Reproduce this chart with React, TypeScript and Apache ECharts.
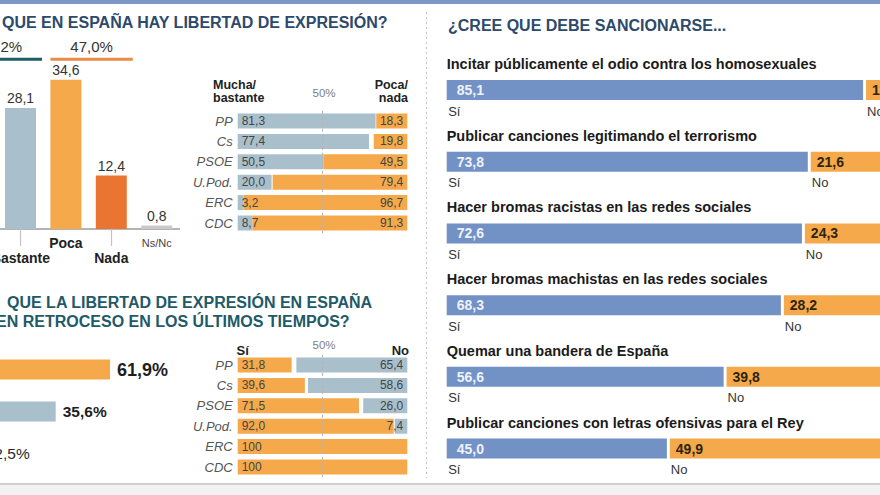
import React, { useEffect, useRef } from "react";
import * as echarts from "echarts";

const FONT = "'Liberation Sans', Arial, Helvetica, sans-serif";

// ---- Section 1: ¿Cree que en España hay libertad de expresión?
const title1 = "QUE EN ESPAÑA HAY LIBERTAD DE EXPRESIÓN?";
const libertadCats = ["Mucha", "Bastante", "Poca", "Nada", "Ns/Nc"];
const libertadVals = [24.1, 28.1, 34.6, 12.4, 0.8];
const libertadColors = ["#6f98a6", "#a9c0cc", "#f5a94a", "#ea7431", "#c9c9c9"];
const libertadGroups = [
  [0, 1],
  [2, 3],
];
const groupColors = ["#1d5e66", "#ec8a47"];

// ---- Section 2: por partido (Mucha/bastante vs Poca/nada)
const parties = ["PP", "Cs", "PSOE", "U.Pod.", "ERC", "CDC"];
const muchaBastante = [81.3, 77.4, 50.5, 20.0, 3.2, 8.7];
const pocaNada = [18.3, 19.8, 49.5, 79.4, 96.7, 91.3];

// ---- Section 3: ¿retroceso?
const title3a = "QUE LA LIBERTAD DE EXPRESIÓN EN ESPAÑA";
const title3b = "ESTÁ EN RETROCESO EN LOS ÚLTIMOS TIEMPOS?";
const retrocesoCats = ["Sí", "No", "Ns/Nc"];
const retrocesoVals = [61.9, 35.6, 2.5];
const retrocesoColors = ["#f5a94a", "#a9c0cc", "#c9c9c9"];

// ---- Section 4: retroceso por partido
const retrocesoSi = [31.8, 39.6, 71.5, 92.0, 100, 100];
const retrocesoNo = [65.4, 58.6, 26.0, 7.4, 0, 0];

// ---- Section 5: ¿Cree que debe sancionarse...
const title5 = "¿CREE QUE DEBE SANCIONARSE...";
const questions = [
  "Incitar públicamente el odio contra los homosexuales",
  "Publicar canciones legitimando el terrorismo",
  "Hacer bromas racistas en las redes sociales",
  "Hacer bromas machistas en las redes sociales",
  "Quemar una bandera de España",
  "Publicar canciones con letras ofensivas para el Rey",
];
const sancionSi = [85.1, 73.8, 72.6, 68.3, 56.6, 45.0];
const sancionNo = [11.6, 21.6, 24.3, 28.2, 39.8, 49.9];

const BLUE = "#7291c5";
const ORANGE = "#f5a94a";
const GREYBLUE = "#a9c0cc";
const GAP = 0.6;
const COL_BAR_W = 31;

const fmt = (v: number) => v.toFixed(1).replace(".", ",");
const fmtTable = (v: number) => (v === 0 ? "" : v === 100 ? "100" : fmt(v));

function txt(text: string, x: number, y: number, o: any = {}) {
  return {
    type: "text",
    x,
    y,
    silent: true,
    style: {
      text,
      fill: o.fill || "#222",
      fontSize: o.fontSize || 13,
      fontWeight: o.fontWeight || "normal",
      fontStyle: o.fontStyle || "normal",
      fontFamily: FONT,
      align: o.align || "left",
      textAlign: o.align || "left",
      verticalAlign: "middle",
      textVerticalAlign: "middle",
      lineHeight: o.lineHeight,
    },
  };
}

export default function App() {
  const ref = useRef<HTMLDivElement>(null);

  useEffect(() => {
    const el = ref.current!;
    const chart = echarts.init(el, null, { renderer: "svg" });

    const tableYAxis = (gridIndex: number) => ({
      type: "category",
      gridIndex,
      data: parties,
      inverse: true,
      axisLine: { show: false },
      axisTick: { show: false },
      axisLabel: {
        fontStyle: "italic",
        fontSize: 13,
        color: "#555",
        margin: 5,
        fontFamily: FONT,
      },
    });

    const option: any = {
      animation: false,
      textStyle: { fontFamily: FONT },
      grid: [
        { left: -47.6, top: 56.6, width: 227, height: 172.4, containLabel: false, outerBoundsMode: "none" },
        { left: 237.7, top: 110.8, width: 169.6, height: 122.4, containLabel: false, outerBoundsMode: "none" },
        { left: -17.8, top: 348.5, width: 206.5, height: 126, containLabel: false, outerBoundsMode: "none" },
        { left: 237.7, top: 354.8, width: 169.6, height: 122.4, containLabel: false, outerBoundsMode: "none" },
        { left: 446.7, top: 54.2, width: 489.3, height: 430.2, containLabel: false, outerBoundsMode: "none" },
      ],
      xAxis: [
        {
          type: "category",
          gridIndex: 0,
          data: libertadCats,
          axisLine: { lineStyle: { color: "#9c9c9c", width: 1.5 } },
          axisTick: {
            show: true,
            alignWithLabel: true,
            length: 17,
            interval: (index: number) => index % 2 === 1,
            lineStyle: { color: "#c4c4c4", width: 1.2 },
          },
          axisLabel: {
            interval: 0,
            margin: 6,
            lineHeight: 15,
            formatter: (value: string, index: number) => {
              if (index === 0) return "";
              if (value === "Ns/Nc") return `{s|${value}}`;
              return index % 2 === 1 ? `\n{b|${value}}` : `{b|${value}}`;
            },
            rich: {
              b: { fontSize: 14, fontWeight: "bold", color: "#222", lineHeight: 15, fontFamily: FONT },
              s: { fontSize: 11, color: "#444", lineHeight: 15, fontFamily: FONT },
            },
          },
        },
        { type: "value", gridIndex: 1, min: 0, max: 100, show: false },
        { type: "value", gridIndex: 2, min: 0, max: 100, show: false },
        { type: "value", gridIndex: 3, min: 0, max: 100, show: false },
        { type: "value", gridIndex: 4, min: 0, max: 100, show: false },
      ],
      yAxis: [
        { type: "value", gridIndex: 0, min: 0, max: 40, show: false },
        tableYAxis(1),
        { type: "category", gridIndex: 2, data: retrocesoCats, inverse: true, show: false },
        tableYAxis(3),
        { type: "category", gridIndex: 4, data: questions, inverse: true, show: false },
      ],
      series: [
        // Section 1 columns
        {
          type: "bar",
          xAxisIndex: 0,
          yAxisIndex: 0,
          data: libertadVals,
          barWidth: COL_BAR_W,
          itemStyle: { color: (p: any) => libertadColors[p.dataIndex] },
          label: {
            show: true,
            position: "top",
            distance: 3,
            fontSize: 14,
            color: "#333",
            formatter: (p: any) => (p.dataIndex === 0 ? "" : fmt(p.value)),
          },
        },
        // Section 1 group brackets
        {
          type: "custom",
          xAxisIndex: 0,
          yAxisIndex: 0,
          data: libertadGroups,
          clip: false,
          z: 5,
          renderItem: (params: any, api: any) => {
            const s = api.value(0);
            const e = api.value(1);
            const x1 = api.coord([s, 0])[0] - COL_BAR_W / 2;
            const x2 = api.coord([e, 0])[0] + COL_BAR_W / 2 + 6;
            const y = api.coord([0, 39.4])[1];
            let total = 0;
            for (let i = s; i <= e; i++) total += libertadVals[i];
            return {
              type: "group",
              children: [
                {
                  type: "line",
                  shape: { x1, y1: y, x2, y2: y },
                  style: { stroke: groupColors[params.dataIndex], lineWidth: 3 },
                },
                {
                  type: "text",
                  x: (x1 + x2) / 2,
                  y: y - 13,
                  style: {
                    text: fmt(total) + "%",
                    fill: "#333",
                    fontSize: 15,
                    fontFamily: FONT,
                    align: "center",
                    verticalAlign: "middle",
                  },
                },
              ],
            };
          },
        },
        // Section 2 table
        {
          type: "bar",
          xAxisIndex: 1,
          yAxisIndex: 1,
          stack: "t1",
          data: muchaBastante,
          barWidth: 15,
          itemStyle: { color: GREYBLUE },
          label: {
            show: true,
            position: "insideLeft",
            distance: 4,
            fontSize: 12,
            color: "#454545",
            textBorderWidth: 0,
            formatter: (p: any) => fmtTable(p.value),
          },
          markLine: {
            silent: true,
            symbol: "none",
            label: { show: false },
            lineStyle: { type: [3, 3], color: "#b5b5b5", width: 1 },
            data: [{ xAxis: 50 }],
          },
        },
        {
          type: "bar",
          xAxisIndex: 1,
          yAxisIndex: 1,
          stack: "t1",
          data: muchaBastante.map((v, i) => Math.max(0, 100 - v - pocaNada[i])),
          barWidth: 15,
          itemStyle: { color: "rgba(0,0,0,0)" },
          silent: true,
        },
        {
          type: "bar",
          xAxisIndex: 1,
          yAxisIndex: 1,
          stack: "t1",
          data: pocaNada,
          barWidth: 15,
          itemStyle: { color: ORANGE },
          label: {
            show: true,
            position: "insideRight",
            distance: 4,
            fontSize: 12,
            color: "#454545",
            textBorderWidth: 0,
            formatter: (p: any) => fmtTable(p.value),
          },
        },
        // Section 3 bars
        {
          type: "bar",
          xAxisIndex: 2,
          yAxisIndex: 2,
          data: retrocesoVals,
          barWidth: 20,
          itemStyle: { color: (p: any) => retrocesoColors[p.dataIndex] },
          label: {
            show: true,
            position: "right",
            distance: 7,
            textBorderWidth: 0,
            formatter: (p: any) => {
              const k = ["a", "b", "c"][p.dataIndex];
              return `{${k}|${fmt(p.value)}%}`;
            },
            rich: {
              a: { fontSize: 18, fontWeight: "bold", color: "#1e1e1e", fontFamily: FONT },
              b: { fontSize: 15.5, fontWeight: "bold", color: "#1e1e1e", fontFamily: FONT },
              c: { fontSize: 15.5, color: "#2a2a2a", fontFamily: FONT },
            },
          },
        },
        // Section 4 table
        {
          type: "bar",
          xAxisIndex: 3,
          yAxisIndex: 3,
          stack: "t2",
          data: retrocesoSi,
          barWidth: 15,
          itemStyle: { color: ORANGE },
          label: {
            show: true,
            position: "insideLeft",
            distance: 4,
            fontSize: 12,
            color: "#454545",
            textBorderWidth: 0,
            formatter: (p: any) => fmtTable(p.value),
          },
          markLine: {
            silent: true,
            symbol: "none",
            label: { show: false },
            lineStyle: { type: [3, 3], color: "#b5b5b5", width: 1 },
            data: [{ xAxis: 50 }],
          },
        },
        {
          type: "bar",
          xAxisIndex: 3,
          yAxisIndex: 3,
          stack: "t2",
          data: retrocesoSi.map((v, i) => Math.max(0, 100 - v - retrocesoNo[i])),
          barWidth: 15,
          itemStyle: { color: "rgba(0,0,0,0)" },
          silent: true,
        },
        {
          type: "bar",
          xAxisIndex: 3,
          yAxisIndex: 3,
          stack: "t2",
          data: retrocesoNo,
          barWidth: 15,
          itemStyle: { color: GREYBLUE },
          label: {
            show: true,
            position: "insideRight",
            distance: 4,
            fontSize: 12,
            color: "#454545",
            textBorderWidth: 0,
            formatter: (p: any) => fmtTable(p.value),
          },
        },
        // Section 5 bars
        {
          type: "bar",
          xAxisIndex: 4,
          yAxisIndex: 4,
          stack: "r",
          data: sancionSi,
          barWidth: 20,
          itemStyle: { color: BLUE },
          label: {
            show: true,
            position: [0, -32],
            align: "left",
            verticalAlign: "top",
            textBorderWidth: 0,
            formatter: (p: any) => `{t|${p.name}}\n{v|${fmt(p.value)}}\n{s|Sí}`,
            rich: {
              t: { fontSize: 14.5, fontWeight: "bold", color: "#1b1b1b", lineHeight: 32, fontFamily: FONT },
              v: { fontSize: 14, fontWeight: "bold", color: "#eef2fa", lineHeight: 20, padding: [0, 0, 0, 10], fontFamily: FONT },
              s: { fontSize: 13, color: "#333", lineHeight: 22, padding: [0, 0, 0, 1.5], fontFamily: FONT },
            },
          },
        },
        {
          type: "bar",
          xAxisIndex: 4,
          yAxisIndex: 4,
          stack: "r",
          data: sancionSi.map(() => GAP),
          barWidth: 20,
          itemStyle: { color: "rgba(0,0,0,0)" },
          silent: true,
        },
        {
          type: "bar",
          xAxisIndex: 4,
          yAxisIndex: 4,
          stack: "r",
          data: sancionNo,
          barWidth: 20,
          itemStyle: { color: ORANGE },
          label: {
            show: true,
            position: [0, 0],
            align: "left",
            verticalAlign: "top",
            textBorderWidth: 0,
            formatter: (p: any) => `{v|${fmt(p.value)}}\n{s|No}`,
            rich: {
              v: { fontSize: 14, fontWeight: "bold", color: "#2e2410", lineHeight: 20, padding: [0, 0, 0, 6], fontFamily: FONT },
              s: { fontSize: 13, color: "#333", lineHeight: 22, padding: [0, 0, 0, 1], fontFamily: FONT },
            },
          },
        },
      ],
      graphic: [
        { type: "rect", silent: true, shape: { x: 0, y: 0, width: 880, height: 4 }, style: { fill: "#7e96c5" } },
        { type: "rect", silent: true, shape: { x: 0, y: 484, width: 880, height: 11 }, style: { fill: "#f2f2f2" } },
        { type: "line", silent: true, shape: { x1: 0, y1: 484, x2: 880, y2: 484 }, style: { stroke: "#cfcfcf", lineWidth: 2 } },
        {
          type: "line",
          silent: true,
          shape: { x1: 426.5, y1: 12, x2: 426.5, y2: 478 },
          style: { stroke: "#c4c4c4", lineWidth: 1, lineDash: [2, 3] },
        },
        txt(title1, 2, 22, { fontSize: 16, fontWeight: "bold", fill: "#2c4a6c" }),
        txt(title3a, 7, 302.5, { fontSize: 16, fontWeight: "bold", fill: "#1e5a68" }),
        txt(title3b, -51, 321.5, { fontSize: 16, fontWeight: "bold", fill: "#1e5a68" }),
        txt(title5, 448, 25, { fontSize: 16, fontWeight: "bold", fill: "#2c4a6c" }),
        txt("Mucha/\nbastante", 213, 91.5, { fontSize: 12.5, fontWeight: "bold", lineHeight: 13 }),
        txt("50%", 324, 93, { fontSize: 11.5, fill: "#808080", align: "center" }),
        txt("Poca/\nnada", 408, 91.5, { fontSize: 12.5, fontWeight: "bold", lineHeight: 13, align: "right" }),
        txt("Sí", 236.5, 350, { fontSize: 13, fontWeight: "bold" }),
        txt("50%", 324, 345, { fontSize: 11.5, fill: "#808080", align: "center" }),
        txt("No", 409, 350, { fontSize: 13, fontWeight: "bold", align: "right" }),
      ],
    };

    chart.setOption(option);
    return () => chart.dispose();
  }, []);

  return (
    <div
      ref={ref}
      style={{ position: "fixed", left: 0, top: 0, width: 880, height: 495, background: "#fff" }}
    />
  );
}
